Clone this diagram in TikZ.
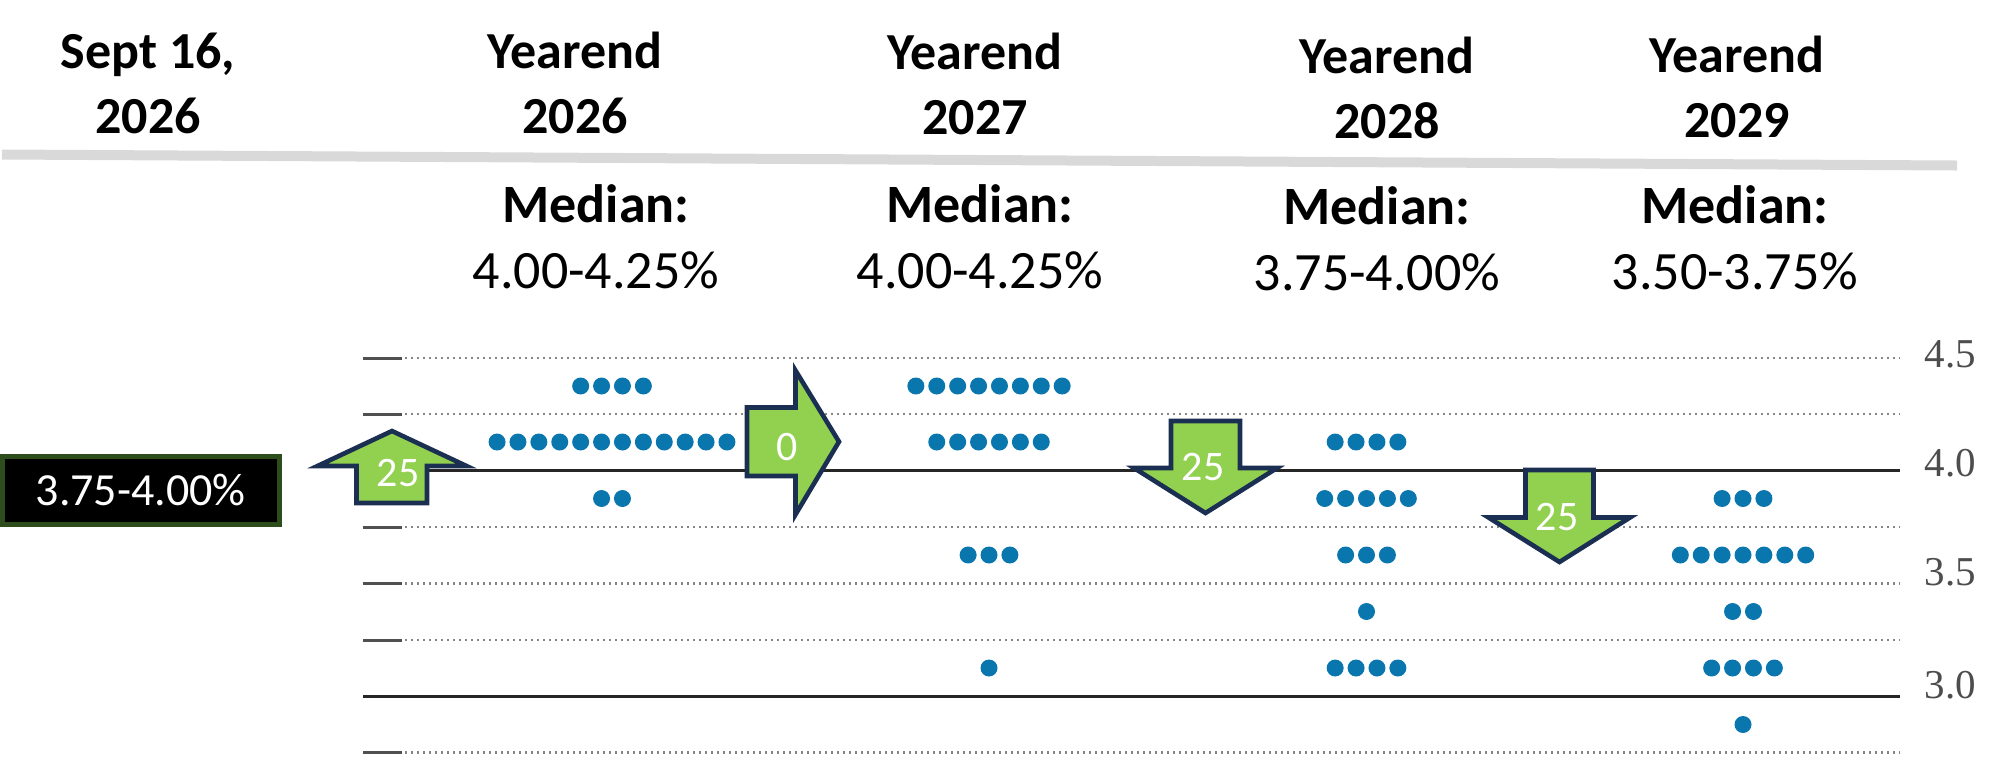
\documentclass[tikz,border=0pt]{standalone}
\usepackage{fontspec}
\setmainfont{Carlito}
\newfontfamily\axisfont{Liberation Serif}

\definecolor{dotblue}{HTML}{0A76AE}
\definecolor{arrowgreen}{HTML}{92D050}
\definecolor{arrownavy}{HTML}{1B2F52}
\definecolor{boxgreen}{HTML}{2E4D1C}
\definecolor{rulegray}{HTML}{D9D9D9}
\definecolor{gridgray}{HTML}{858585}
\definecolor{tickgray}{HTML}{505050}
\definecolor{axisgray}{HTML}{4D4D4D}

\tikzset{
  head/.style={font=\bfseries\fontsize{26}{32.5}\selectfont, align=center, anchor=base, inner sep=0pt},
  med/.style={font=\fontsize{27}{33}\selectfont, align=center, anchor=base, inner sep=0pt},
  cut/.style={fill=arrowgreen, draw=arrownavy, line width=2.3pt, line join=miter},
  cutlabel/.style={text=white, font=\fontsize{21}{25}\selectfont, inner sep=0pt},
  dotline/.style={gridgray, line width=1.1pt, dash pattern=on 1.1pt off 1.9pt},
  solidline/.style={black!85, line width=1.5pt},
  tickmark/.style={tickgray, line width=1.5pt},
  axislabel/.style={text=axisgray, font=\axisfont\fontsize{20.5}{24}\selectfont, inner sep=0pt},
}

\begin{document}
\begin{tikzpicture}[x=0.5pt, y=-0.5pt]
\useasboundingbox (0,0) rectangle (1998,773);

% header row (base = last line)
\node[head] (sep) at (148,133) {Sept 16,\\2026};
\node[head] (ye26) at (575,133) {Yearend\\2026};
\node[head] (ye27) at (975,134) {Yearend\\2027};
\node[head] (ye28) at (1387,138) {Yearend\\2028};
\node[head] (ye29) at (1737,137) {Yearend\\2029};
\coordinate (rl) at (2,154.5);
\coordinate (rr) at (1957,165.5);
\draw[rulegray, line width=5pt] (rl) -- (rr);

% medians
\node[med] (md26) at (596,288) {\textbf{Median:}\\4.00-4.25\%};
\node[med] (md27) at (980,288) {\textbf{Median:}\\4.00-4.25\%};
\node[med] (md28) at (1377,290) {\textbf{Median:}\\3.75-4.00\%};
\node[med] (md29) at (1735,289) {\textbf{Median:}\\3.50-3.75\%};

% grid
\foreach \gy in {358,414,527,583.5,640,752.5} {
  \draw[tickmark] (363,\gy) -- (402,\gy);
  \draw[dotline] (405,\gy) -- (1900,\gy);
}
\foreach \gy in {470,696}
  \draw[solidline] (363,\gy) -- (1900,\gy);
\node[axislabel] (r45) at (1950.5,354) {4.5};
\node[axislabel] (r40) at (1950.5,463) {4.0};
\node[axislabel] (r35) at (1950.5,572.5) {3.5};
\node[axislabel] (r30) at (1950.5,685) {3.0};

% dots: column centre / row / count
\foreach \cx/\ry/\n in {612/386/4, 612/442/12, 612/498.5/2,
    989/386/8, 989/442/6, 989/555/3, 989/668/1,
    1366.5/442/4, 1366.5/498.5/5, 1366.5/555/3, 1366.5/611.5/1, 1366.5/668/4,
    1743/498.5/3, 1743/555/7, 1743/611.5/2, 1743/668/4, 1743/724.5/1}
  \foreach \k in {1,...,\n}
    \fill[dotblue] ({\cx+(\k-(\n+1)/2)*20.9},\ry) circle (4.25pt);

% current range
\node[fill=black, draw=boxgreen, line width=2.5pt, minimum width=138.3pt,
  minimum height=33.8pt, inner sep=0pt, text=white,
  font=\fontsize{23}{27}\selectfont] (now) at (140.8,490.3) {3.75-4.00\%};

% moves
\draw[cut] (392,431) -- (466.5,466) -- (427,466) -- (427,503) -- (356.5,503)
  -- (356.5,466) -- (317.5,466) -- cycle;
\node[cutlabel] (up25) at (398,473) {25};
\draw[cut] (747,407.5) -- (795.5,407.5) -- (795.5,370.5) -- (839,441.7)
  -- (795.5,514.5) -- (795.5,476) -- (747,476) -- cycle;
\node[cutlabel] (hold) at (787,446.7) {0};
\draw[cut] (1171,421) -- (1240,421) -- (1240,468) -- (1277,468) -- (1205.5,513)
  -- (1134,468) -- (1171,468) -- cycle;
\node[cutlabel] (dn25a) at (1203,467.5) {25};
\draw[cut] (1525.5,470) -- (1593.5,470) -- (1593.5,517.5) -- (1630,517.5)
  -- (1559.5,562) -- (1488.5,517.5) -- (1525.5,517.5) -- cycle;
\node[cutlabel] (dn25b) at (1557,516.7) {25};
\end{tikzpicture}
\end{document}
